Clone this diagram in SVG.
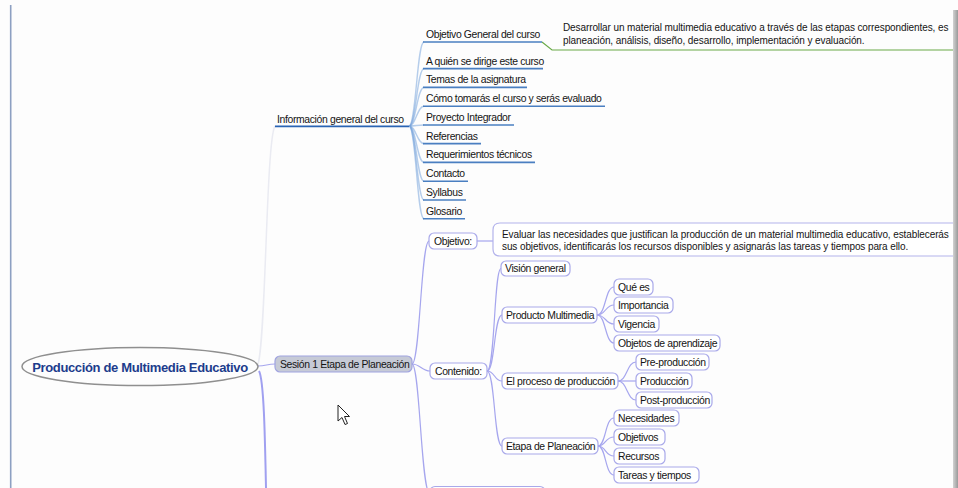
<svg xmlns="http://www.w3.org/2000/svg" width="958" height="488" viewBox="0 0 958 488">
<defs>
<style>
.t{font-family:"Liberation Sans",Arial,sans-serif;font-size:10.4px;letter-spacing:-0.35px;fill:#141414}
.d{font-size:10px;letter-spacing:-0.1px}
.box{fill:#fff;stroke:#a9a9ea;stroke-width:1.2}
.ul{stroke:#4a7fc1;stroke-width:1.6}
.c{fill:none;stroke:#a6a6ee;stroke-width:1.2}
.fan{fill:none;stroke:#7aa6dc;stroke-width:1.4;opacity:0.55}
</style>
<linearGradient id="shadow" x1="0" y1="0" x2="1" y2="0">
<stop offset="0" stop-color="#d2d2d2"/>
<stop offset="1" stop-color="#9a9a9a"/>
</linearGradient>
</defs>
<rect x="0" y="0" width="958" height="488" fill="#fdfdfd"/>
<line x1="10.7" y1="5" x2="10.7" y2="488" stroke="#8da0c2" stroke-width="1.6"/>

<g id="connectors">
<path d="M258,364 C266,340 266,140 275,126" fill="none" stroke="#eaebf2" stroke-width="1.5"/>
<path class="fan" d="M409,126 C416,126 417,42 424,42"/>
<path class="fan" d="M409,126 C416,126 417,68.6 424,68.6"/>
<path class="fan" d="M409,126 C416,126 417,87.4 424,87.4"/>
<path class="fan" d="M409,126 C416,126 417,106.2 424,106.2"/>
<path class="fan" d="M409,126 C416,126 417,125 424,125"/>
<path class="fan" d="M409,126 C416,126 417,143.6 424,143.6"/>
<path class="fan" d="M409,126 C416,126 417,162.4 424,162.4"/>
<path class="fan" d="M409,126 C416,126 417,181.3 424,181.3"/>
<path class="fan" d="M409,126 C416,126 417,200 424,200"/>
<path class="fan" d="M409,126 C416,126 417,218.8 424,218.8"/>
<path d="M542,42 L552,50 L953,50" fill="none" stroke="#6aaa48" stroke-width="1.2"/>
<path class="c" d="M258,366 C266,366 267,364 275,364"/>
<path d="M259,371 C264,380 265,440 266,488" fill="none" stroke="#a0a0f0" stroke-width="2"/>
<path class="c" d="M412,364 C420,364 421,241 429,241"/>
<path class="c" d="M412,364 C420,364 422,371 430,371"/>
<path class="c" d="M412,364 C420,364 421,494 430,494"/>
<path class="c" d="M477,241 L493,241"/>
<path class="c" d="M487,371 C495,371 494,268.5 501,268.5"/>
<path class="c" d="M487,371 C495,371 494,315 502,315"/>
<path class="c" d="M487,371 C495,371 494,381 502,381"/>
<path class="c" d="M487,371 C495,371 494,446 502,446"/>
<path class="c" d="M597,315 C606,315 605,287 614,287"/>
<path class="c" d="M597,315 C606,315 605,305 614,305"/>
<path class="c" d="M597,315 C606,315 605,324 614,324"/>
<path class="c" d="M597,315 C606,315 605,343 614,343"/>
<path class="c" d="M618,381 C627,381 627,362 636,362"/>
<path class="c" d="M618,381 L636,381"/>
<path class="c" d="M618,381 C627,381 627,400 636,400"/>
<path class="c" d="M598,446 C606,446 605,418 614,418"/>
<path class="c" d="M598,446 C606,446 605,437 614,437"/>
<path class="c" d="M598,446 C606,446 605,456 614,456"/>
<path class="c" d="M598,446 C606,446 605,475 614,475"/>
</g>

<g id="root">
<ellipse cx="140" cy="366.5" rx="118" ry="19" fill="#fdfdfd" stroke="#8f8f8f" stroke-width="1.5"/>
<text x="140" y="371.5" text-anchor="middle" font-family="'Liberation Sans',Arial,sans-serif" font-size="13" font-weight="bold" letter-spacing="-0.35" fill="#1c3c8c">Producción de Multimedia Educativo</text>
</g>

<g id="info-general">
<text class="t" x="277" y="122.5">Información general del curso</text>
<line x1="275" y1="126.3" x2="409" y2="126.3" stroke="#2a64b4" stroke-width="1.8"/>
</g>
<g id="objetivo-general">
<text class="t" x="426" y="38">Objetivo General del curso</text>
<line class="ul" x1="423" y1="42" x2="542" y2="42"/>
</g>
<g id="objetivo-general-desc">
<text class="t d" x="563" y="31">Desarrollar un material multimedia educativo a través de las etapas correspondientes, es</text>
<text class="t d" x="563" y="44">planeación, análisis, diseño, desarrollo, implementación y evaluación.</text>
</g>
<g id="a-quien">
<text class="t" x="426" y="64.5">A quién se dirige este curso</text>
<line class="ul" x1="423" y1="68.6" x2="543" y2="68.6"/>
</g>
<g id="temas">
<text class="t" x="426" y="83.3">Temas de la asignatura</text>
<line class="ul" x1="423" y1="87.4" x2="527" y2="87.4"/>
</g>
<g id="como">
<text class="t" x="426" y="102.1">Cómo tomarás el curso y serás evaluado</text>
<line class="ul" x1="423" y1="106.2" x2="605" y2="106.2"/>
</g>
<g id="proyecto">
<text class="t" x="426" y="120.9">Proyecto Integrador</text>
<line class="ul" x1="423" y1="125" x2="514" y2="125"/>
</g>
<g id="referencias">
<text class="t" x="426" y="139.5">Referencias</text>
<line class="ul" x1="423" y1="143.6" x2="481" y2="143.6"/>
</g>
<g id="requerimientos">
<text class="t" x="426" y="158.3">Requerimientos técnicos</text>
<line class="ul" x1="423" y1="162.4" x2="535" y2="162.4"/>
</g>
<g id="contacto">
<text class="t" x="426" y="177.2">Contacto</text>
<line class="ul" x1="423" y1="181.3" x2="468" y2="181.3"/>
</g>
<g id="syllabus">
<text class="t" x="426" y="195.9">Syllabus</text>
<line class="ul" x1="423" y1="200" x2="466" y2="200"/>
</g>
<g id="glosario">
<text class="t" x="426" y="214.7">Glosario</text>
<line class="ul" x1="423" y1="218.8" x2="465" y2="218.8"/>
</g>

<g id="sesion1">
<rect x="275" y="356" width="137" height="16" rx="5" fill="#c6cad6" stroke="#a0a3e0" stroke-width="1.2"/>
<text class="t" x="280" y="367.5" fill="#333">Sesión 1 Etapa de Planeación</text>
</g>
<g id="objetivo">
<rect class="box" x="429" y="233" width="48" height="16" rx="5"/>
<text class="t" x="434" y="244.5">Objetivo:</text>
</g>
<g id="objetivo-desc">
<path d="M960,223 H500 Q493,223 493,230 V249 Q493,256 500,256 H960" fill="#fff" stroke="#b4b4ec" stroke-width="1.2"/>
<text class="t d" x="502" y="237.5">Evaluar las necesidades que justifican la producción de un material multimedia educativo, establecerás</text>
<text class="t d" x="502" y="250">sus objetivos, identificarás los recursos disponibles y asignarás las tareas y tiempos para ello.</text>
</g>
<g id="vision">
<rect class="box" x="501" y="261" width="69" height="15" rx="5"/>
<text class="t" x="505" y="272">Visión general</text>
</g>
<g id="contenido">
<rect class="box" x="430" y="363" width="57" height="16" rx="5"/>
<text class="t" x="435" y="374.5">Contenido:</text>
</g>
<g id="producto">
<rect class="box" x="502" y="307" width="95" height="16" rx="5"/>
<text class="t" x="506" y="318.5">Producto Multimedia</text>
</g>
<g id="que-es">
<rect class="box" x="614" y="279" width="39" height="16" rx="5"/>
<text class="t" x="618" y="290.5">Qué es</text>
</g>
<g id="importancia">
<rect class="box" x="614" y="297" width="59" height="16" rx="5"/>
<text class="t" x="618" y="308.5">Importancia</text>
</g>
<g id="vigencia">
<rect class="box" x="614" y="316" width="45" height="16" rx="5"/>
<text class="t" x="618" y="327.5">Vigencia</text>
</g>
<g id="objetos">
<rect class="box" x="614" y="335" width="106" height="16" rx="5"/>
<text class="t" x="618" y="346.5">Objetos de aprendizaje</text>
</g>
<g id="proceso">
<rect class="box" x="502" y="373" width="116" height="16" rx="5"/>
<text class="t" x="506" y="384.5">El proceso de producción</text>
</g>
<g id="preproduccion">
<rect class="box" x="636" y="354" width="73" height="16" rx="5"/>
<text class="t" x="640" y="365.5">Pre-producción</text>
</g>
<g id="produccion">
<rect class="box" x="636" y="373" width="56" height="16" rx="5"/>
<text class="t" x="640" y="384.5">Producción</text>
</g>
<g id="postproduccion">
<rect class="box" x="636" y="392" width="76" height="16" rx="5"/>
<text class="t" x="640" y="403.5">Post-producción</text>
</g>
<g id="etapa">
<rect class="box" x="502" y="438" width="96" height="16" rx="5"/>
<text class="t" x="506" y="449.5">Etapa de Planeación</text>
</g>
<g id="necesidades">
<rect class="box" x="614" y="410" width="65" height="16" rx="5"/>
<text class="t" x="618" y="421.5">Necesidades</text>
</g>
<g id="objetivos">
<rect class="box" x="614" y="429" width="51" height="16" rx="5"/>
<text class="t" x="618" y="440.5">Objetivos</text>
</g>
<g id="recursos">
<rect class="box" x="614" y="448" width="51" height="16" rx="5"/>
<text class="t" x="618" y="459.5">Recursos</text>
</g>
<g id="tareas">
<rect class="box" x="614" y="467" width="85" height="16" rx="5"/>
<text class="t" x="618" y="478.5">Tareas y tiempos</text>
</g>
<g id="next-node">
<rect class="box" x="430" y="486.5" width="115" height="16" rx="5"/>
</g>

<polygon points="338,405 338,421 342,417.5 345,424.5 347.5,423.5 344.5,416.5 349.5,416.5" fill="#fff" stroke="#222" stroke-width="1"/>
<rect x="953" y="10" width="5" height="478" fill="url(#shadow)"/>
</svg>
